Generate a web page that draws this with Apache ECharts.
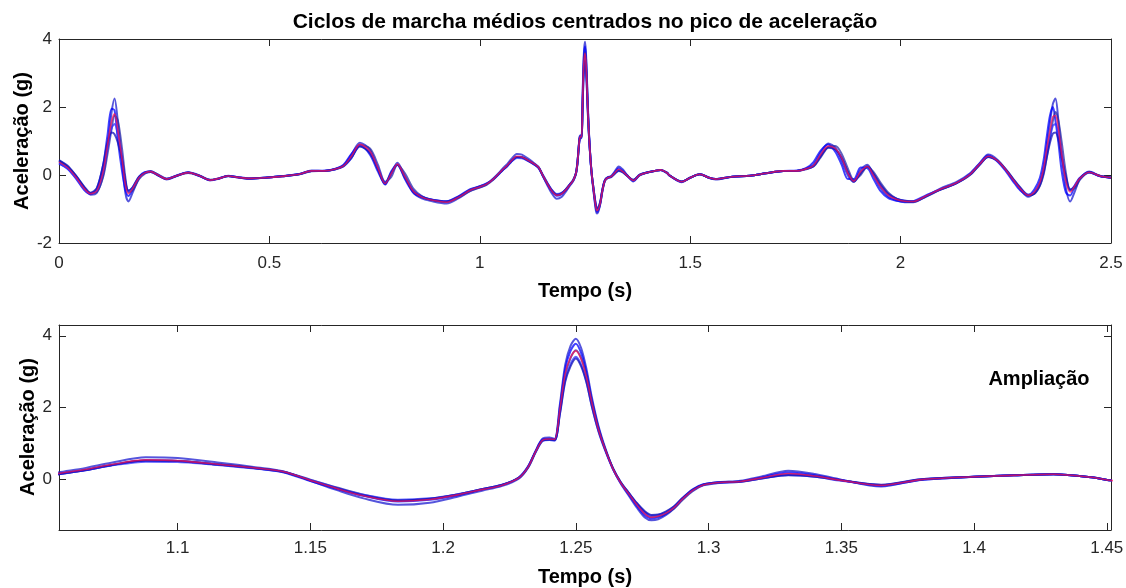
<!DOCTYPE html>
<html>
<head>
<meta charset="utf-8">
<script src="https://cdn.jsdelivr.net/npm/echarts@6/dist/echarts.min.js"></script>
<style>
  html, body { margin: 0; padding: 0; background: #fff; }
  #chart { width: 1126px; height: 588px; }
</style>
</head>
<body>
<div id="chart"></div>
<script>
// Sample instants (s) shared by every averaged gait cycle
const times = [
  0, 0.02, 0.04, 0.06, 0.075, 0.09, 0.105, 0.115, 0.125, 0.132,
  0.14, 0.15, 0.158, 0.165, 0.175, 0.19, 0.205, 0.218, 0.235, 0.256,
  0.28, 0.307, 0.335, 0.359, 0.38, 0.402, 0.425, 0.45, 0.49, 0.53,
  0.57, 0.6, 0.632, 0.655, 0.676, 0.695, 0.715, 0.739, 0.758, 0.775,
  0.79, 0.804, 0.822, 0.842, 0.862, 0.882, 0.921, 0.95, 0.977, 1.0,
  1.016, 1.032, 1.048, 1.055, 1.065, 1.075, 1.088, 1.1, 1.115, 1.13,
  1.14, 1.15, 1.16, 1.17, 1.183, 1.195, 1.205, 1.215, 1.222, 1.2285,
  1.232, 1.235, 1.2375, 1.24, 1.242, 1.244, 1.246, 1.248, 1.25, 1.252,
  1.254, 1.256, 1.2585, 1.261, 1.264, 1.267, 1.27, 1.273, 1.276, 1.2785,
  1.281, 1.284, 1.287, 1.29, 1.294, 1.298, 1.304, 1.312, 1.32, 1.33,
  1.34, 1.35, 1.365, 1.38, 1.4, 1.415, 1.43, 1.445, 1.4515, 1.48,
  1.5, 1.523, 1.545, 1.56, 1.6, 1.642, 1.68, 1.721, 1.753, 1.775,
  1.793, 1.81, 1.828, 1.845, 1.86, 1.875, 1.889, 1.905, 1.921, 1.935,
  1.951, 1.971, 1.991, 2.01, 2.03, 2.06, 2.094, 2.133, 2.165, 2.19,
  2.208, 2.23, 2.252, 2.268, 2.284, 2.303, 2.318, 2.331, 2.34, 2.347,
  2.355, 2.362, 2.368, 2.375, 2.383, 2.393, 2.403, 2.415, 2.426, 2.448,
  2.474, 2.5
];

// Individual averaged cycles (g)
const cycle1 = [
  0.42, 0.25, -0.02, -0.36, -0.58, -0.52, 0.0, 0.8, 1.85, 2.25,
  1.55, 0.35, -0.55, -0.78, -0.52, -0.1, 0.08, 0.12, 0.01, -0.13,
  -0.03, 0.08, -0.02, -0.16, -0.11, -0.02, -0.07, -0.11, -0.08, -0.04,
  0.02, 0.13, 0.12, 0.17, 0.28, 0.6, 0.95, 0.74, 0.18, -0.28,
  0.05, 0.36, -0.04, -0.52, -0.69, -0.76, -0.84, -0.68, -0.47, -0.36,
  -0.28, -0.1, 0.1, 0.2, 0.32, 0.47, 0.62, 0.6, 0.48, 0.34,
  0.23, -0.03, -0.29, -0.52, -0.7, -0.64, -0.48, -0.3, -0.18, 0.03,
  0.34, 0.82, 1.14, 1.17, 1.14, 2.1, 3.2, 3.72, 3.92, 3.66,
  3.08, 2.3, 1.5, 0.9, 0.3, -0.12, -0.45, -0.78, -1.05, -1.13,
  -1.1, -0.98, -0.8, -0.56, -0.3, -0.14, -0.07, -0.03, 0.09, 0.25,
  0.16, 0.0, -0.19, 0.0, 0.08, 0.12, 0.15, 0.06, -0.02, -0.21,
  -0.08, 0.02, -0.09, -0.13, -0.05, -0.02, 0.05, 0.12, 0.12, 0.19,
  0.3, 0.66, 0.93, 0.8, 0.42, -0.02, -0.2, 0.16, 0.3, 0.02,
  -0.36, -0.64, -0.75, -0.8, -0.8, -0.63, -0.4, -0.2, 0.05, 0.38,
  0.6, 0.45, 0.12, -0.16, -0.42, -0.64, -0.52, -0.22, 0.22, 0.85,
  1.55, 2.1, 2.25, 1.6, 0.55, -0.4, -0.78, -0.45, -0.12, 0.1,
  -0.03, -0.07
];
const cycle2 = [
  0.35, 0.18, -0.1, -0.44, -0.56, -0.4, 0.3, 1.15, 1.95, 1.9,
  1.0, 0.1, -0.45, -0.62, -0.42, -0.06, 0.09, 0.1, -0.01, -0.12,
  -0.01, 0.07, -0.04, -0.15, -0.1, -0.03, -0.06, -0.1, -0.08, -0.03,
  0.03, 0.12, 0.13, 0.18, 0.3, 0.62, 0.88, 0.6, 0.1, -0.27,
  0.12, 0.3, -0.12, -0.52, -0.66, -0.72, -0.78, -0.62, -0.42, -0.33,
  -0.25, -0.13, 0.06, 0.15, 0.26, 0.4, 0.53, 0.52, 0.42, 0.31,
  0.2, -0.04, -0.26, -0.45, -0.61, -0.56, -0.44, -0.27, -0.16, 0.06,
  0.37, 0.82, 1.12, 1.14, 1.12, 2.02, 3.08, 3.58, 3.78, 3.52,
  2.98, 2.22, 1.45, 0.86, 0.3, -0.1, -0.42, -0.73, -0.99, -1.08,
  -1.05, -0.95, -0.78, -0.53, -0.27, -0.13, -0.07, -0.05, 0.06, 0.2,
  0.12, -0.01, -0.17, -0.01, 0.08, 0.12, 0.15, 0.06, -0.02, -0.2,
  -0.08, 0.02, -0.08, -0.12, -0.05, -0.02, 0.05, 0.12, 0.13, 0.2,
  0.38, 0.72, 0.9, 0.68, 0.3, -0.12, -0.12, 0.22, 0.2, -0.1,
  -0.45, -0.68, -0.76, -0.79, -0.77, -0.6, -0.43, -0.24, 0.03, 0.37,
  0.57, 0.4, 0.08, -0.2, -0.45, -0.6, -0.42, -0.08, 0.45, 1.1,
  1.75, 2.0, 1.6, 0.95, 0.1, -0.52, -0.6, -0.28, -0.08, 0.09,
  -0.04, -0.08
];
const cycle3 = [
  0.4, 0.24, -0.04, -0.38, -0.54, -0.5, -0.05, 0.6, 1.35, 1.75,
  1.6, 0.75, -0.1, -0.5, -0.45, -0.12, 0.05, 0.1, 0.02, -0.11,
  -0.02, 0.06, -0.03, -0.14, -0.1, -0.04, -0.07, -0.1, -0.08, -0.04,
  0.02, 0.11, 0.12, 0.16, 0.25, 0.5, 0.88, 0.78, 0.3, -0.2,
  -0.05, 0.3, 0.05, -0.4, -0.62, -0.72, -0.79, -0.66, -0.47, -0.37,
  -0.29, -0.14, 0.07, 0.15, 0.26, 0.4, 0.53, 0.52, 0.43, 0.32,
  0.22, 0.0, -0.22, -0.42, -0.58, -0.54, -0.42, -0.26, -0.15, 0.04,
  0.33, 0.78, 1.08, 1.12, 1.1, 1.9, 2.9, 3.38, 3.6, 3.38,
  2.88, 2.18, 1.42, 0.86, 0.32, -0.08, -0.38, -0.68, -0.93, -1.04,
  -1.02, -0.94, -0.8, -0.58, -0.32, -0.16, -0.09, -0.06, 0.03, 0.15,
  0.1, -0.02, -0.15, 0.0, 0.08, 0.12, 0.15, 0.06, -0.02, -0.19,
  -0.08, 0.02, -0.08, -0.12, -0.05, -0.02, 0.05, 0.12, 0.12, 0.17,
  0.25, 0.52, 0.82, 0.85, 0.62, 0.18, -0.15, 0.0, 0.24, 0.1,
  -0.2, -0.52, -0.7, -0.77, -0.79, -0.64, -0.44, -0.24, 0.0, 0.33,
  0.54, 0.43, 0.14, -0.12, -0.36, -0.58, -0.55, -0.32, 0.02, 0.5,
  1.1, 1.6, 1.85, 1.6, 0.95, 0.05, -0.45, -0.38, -0.14, 0.07,
  -0.02, -0.08
];
const cycle4 = [
  0.33, 0.2, -0.08, -0.42, -0.53, -0.44, 0.12, 0.78, 1.38, 1.5,
  1.2, 0.5, -0.25, -0.48, -0.36, -0.07, 0.06, 0.09, 0.0, -0.11,
  -0.02, 0.07, -0.03, -0.15, -0.1, -0.03, -0.07, -0.1, -0.08, -0.04,
  0.02, 0.12, 0.12, 0.16, 0.26, 0.5, 0.85, 0.68, 0.22, -0.22,
  0.04, 0.3, -0.06, -0.46, -0.63, -0.71, -0.77, -0.63, -0.44, -0.34,
  -0.26, -0.12, 0.07, 0.15, 0.26, 0.39, 0.5, 0.49, 0.41, 0.3,
  0.21, -0.01, -0.23, -0.42, -0.56, -0.52, -0.41, -0.26, -0.15, 0.05,
  0.35, 0.79, 1.08, 1.1, 1.08, 1.85, 2.78, 3.22, 3.42, 3.2,
  2.72, 2.05, 1.35, 0.82, 0.29, -0.1, -0.38, -0.66, -0.9, -1.0,
  -0.98, -0.9, -0.75, -0.53, -0.3, -0.15, -0.09, -0.06, 0.03, 0.13,
  0.08, -0.03, -0.15, 0.01, 0.08, 0.12, 0.15, 0.06, -0.02, -0.2,
  -0.08, 0.02, -0.08, -0.12, -0.05, -0.02, 0.05, 0.12, 0.12, 0.18,
  0.27, 0.58, 0.82, 0.76, 0.5, 0.06, -0.18, 0.08, 0.24, 0.0,
  -0.3, -0.58, -0.7, -0.76, -0.77, -0.62, -0.42, -0.23, 0.02, 0.34,
  0.53, 0.41, 0.12, -0.14, -0.38, -0.58, -0.48, -0.22, 0.15, 0.62,
  1.1, 1.45, 1.5, 1.2, 0.6, -0.12, -0.45, -0.3, -0.1, 0.07,
  -0.03, -0.08
];
const cycle5 = [
  0.44, 0.28, -0.01, -0.34, -0.52, -0.38, 0.3, 0.95, 1.25, 1.2,
  0.95, 0.45, -0.2, -0.45, -0.36, -0.05, 0.07, 0.09, -0.01, -0.12,
  -0.02, 0.07, -0.03, -0.15, -0.1, -0.03, -0.07, -0.1, -0.08, -0.04,
  0.02, 0.12, 0.12, 0.17, 0.27, 0.52, 0.84, 0.64, 0.16, -0.24,
  0.08, 0.3, -0.08, -0.48, -0.64, -0.72, -0.78, -0.64, -0.44, -0.34,
  -0.26, -0.12, 0.07, 0.16, 0.27, 0.41, 0.53, 0.52, 0.42, 0.31,
  0.21, -0.02, -0.24, -0.44, -0.58, -0.53, -0.42, -0.26, -0.15, 0.06,
  0.36, 0.8, 1.09, 1.11, 1.1, 1.82, 2.72, 3.15, 3.37, 3.15,
  2.7, 2.05, 1.36, 0.84, 0.31, -0.08, -0.37, -0.65, -0.88, -0.98,
  -0.97, -0.88, -0.74, -0.52, -0.28, -0.14, -0.08, -0.05, 0.04, 0.12,
  0.08, -0.02, -0.14, 0.01, 0.08, 0.12, 0.15, 0.06, -0.02, -0.19,
  -0.08, 0.02, -0.08, -0.12, -0.05, -0.02, 0.05, 0.12, 0.12, 0.18,
  0.26, 0.55, 0.8, 0.75, 0.5, 0.08, -0.2, 0.05, 0.25, 0.05,
  -0.26, -0.56, -0.7, -0.76, -0.78, -0.63, -0.43, -0.24, 0.01, 0.33,
  0.53, 0.42, 0.13, -0.13, -0.38, -0.6, -0.55, -0.3, 0.08, 0.5,
  0.95, 1.22, 1.25, 1.05, 0.5, -0.05, -0.42, -0.32, -0.1, 0.08,
  -0.03, -0.08
];

// Mean cycle (g)
const meanCycle = [
  0.38, 0.22, -0.06, -0.4, -0.55, -0.46, 0.1, 0.85, 1.58, 1.8,
  1.3, 0.45, -0.3, -0.55, -0.4, -0.08, 0.07, 0.1, 0.0, -0.12,
  -0.02, 0.07, -0.03, -0.15, -0.1, -0.03, -0.07, -0.1, -0.08, -0.04,
  0.02, 0.12, 0.12, 0.17, 0.27, 0.55, 0.9, 0.7, 0.2, -0.25,
  0.05, 0.32, -0.05, -0.48, -0.65, -0.73, -0.8, -0.65, -0.45, -0.35,
  -0.27, -0.12, 0.08, 0.17, 0.28, 0.42, 0.55, 0.53, 0.43, 0.32,
  0.22, -0.02, -0.25, -0.45, -0.6, -0.55, -0.43, -0.27, -0.16, 0.05,
  0.35, 0.8, 1.1, 1.13, 1.12, 1.95, 2.95, 3.4, 3.58, 3.35,
  2.85, 2.15, 1.4, 0.85, 0.3, -0.1, -0.4, -0.7, -0.95, -1.05,
  -1.02, -0.93, -0.78, -0.55, -0.3, -0.15, -0.08, -0.05, 0.05, 0.17,
  0.1, -0.02, -0.16, 0.0, 0.08, 0.12, 0.15, 0.06, -0.02, -0.2,
  -0.08, 0.02, -0.08, -0.12, -0.05, -0.02, 0.05, 0.12, 0.12, 0.18,
  0.28, 0.6, 0.85, 0.78, 0.5, 0.05, -0.18, 0.1, 0.25, 0.0,
  -0.32, -0.6, -0.72, -0.77, -0.78, -0.62, -0.42, -0.23, 0.02, 0.35,
  0.55, 0.42, 0.12, -0.15, -0.4, -0.6, -0.5, -0.22, 0.2, 0.75,
  1.3, 1.72, 1.75, 1.35, 0.6, -0.2, -0.5, -0.3, -0.1, 0.08,
  -0.03, -0.08
];

// Tick values
const fullXTicks = [0, 0.5, 1, 1.5, 2, 2.5];
const fullYTicks = [-2, 0, 2, 4];
const zoomXTicks = [1.1, 1.15, 1.2, 1.25, 1.3, 1.35, 1.4, 1.45];
const zoomYTicks = [0, 2, 4];

// Text
const titleText = 'Ciclos de marcha médios centrados no pico de aceleração';
const xName = 'Tempo (s)';
const yName = 'Aceleração (g)';
const zoomNote = 'Ampliação';

const cycles = [cycle1, cycle2, cycle3, cycle4, cycle5];
const cycleColors = ['#1c1cd0', '#0000ff', '#2a2aa8', '#3030ff', '#1010b8'];

const FONT = '"Liberation Sans", Arial, Helvetica, sans-serif';
const INK = '#262626';

function pairs(vals) {
  return times.map((t, i) => [t, vals[i]]);
}

function mainXAxis(gridIndex, min, max, ticks, labelMargin) {
  return {
    type: 'value', gridIndex, min, max, position: 'bottom',
    axisLine: { show: true, onZero: false, lineStyle: { color: INK, width: 1 } },
    axisTick: { show: true, inside: true, length: 7, customValues: ticks, lineStyle: { color: INK } },
    axisLabel: { show: true, customValues: ticks, margin: labelMargin, color: INK,
      fontFamily: FONT, fontSize: 17, formatter: v => String(v) },
    splitLine: { show: false }
  };
}
function mirrorXAxis(gridIndex, min, max, ticks) {
  return {
    type: 'value', gridIndex, min, max, position: 'top',
    axisLine: { show: true, onZero: false, lineStyle: { color: INK, width: 1 } },
    axisTick: { show: true, inside: true, length: 7, customValues: ticks, lineStyle: { color: INK } },
    axisLabel: { show: false },
    splitLine: { show: false }
  };
}
function mainYAxis(gridIndex, min, max, ticks) {
  return {
    type: 'value', gridIndex, min, max, position: 'left',
    axisLine: { show: true, onZero: false, lineStyle: { color: INK, width: 1 } },
    axisTick: { show: true, inside: true, length: 7, customValues: ticks, lineStyle: { color: INK } },
    axisLabel: { show: true, customValues: ticks, margin: 7, color: INK,
      fontFamily: FONT, fontSize: 17, formatter: v => String(v) },
    splitLine: { show: false }
  };
}
function mirrorYAxis(gridIndex, min, max, ticks) {
  return {
    type: 'value', gridIndex, min, max, position: 'right',
    axisLine: { show: true, onZero: false, lineStyle: { color: INK, width: 1 } },
    axisTick: { show: true, inside: true, length: 7, customValues: ticks, lineStyle: { color: INK } },
    axisLabel: { show: false },
    splitLine: { show: false }
  };
}

const series = [];
[[0, 0], [2, 2]].forEach(([xi, yi]) => {
  cycles.forEach((c, k) => {
    series.push({
      type: 'line', xAxisIndex: xi, yAxisIndex: yi, data: pairs(c),
      showSymbol: false, symbol: 'none', smooth: 0.3,
      lineStyle: { color: cycleColors[k], width: 2, opacity: 0.75 },
      silent: true, clip: true, z: 2
    });
  });
  series.push({
    type: 'line', xAxisIndex: xi, yAxisIndex: yi, data: pairs(meanCycle),
    showSymbol: false, symbol: 'none', smooth: 0.3,
    lineStyle: { color: '#ff1050', width: 1.6, opacity: 0.7 },
    silent: true, clip: true, z: 3
  });
});

const boldText = (x, y, text, size, rotation) => ({
  type: 'text', x, y, rotation: rotation || 0,
  style: { text, fontFamily: FONT, fontWeight: 'bold', fontSize: size,
    fill: '#000', align: 'center', verticalAlign: 'middle' }
});

const chart = echarts.init(document.getElementById('chart'), null, { renderer: 'canvas' });
chart.setOption({
  animation: false,
  backgroundColor: '#ffffff',
  grid: [
    { left: 59, top: 39, width: 1052, height: 204, containLabel: false, outerBoundsMode: 'none' },
    { left: 59, top: 325, width: 1052, height: 205, containLabel: false, outerBoundsMode: 'none' }
  ],
  xAxis: [
    mainXAxis(0, 0, 2.5, fullXTicks, 12),
    mirrorXAxis(0, 0, 2.5, fullXTicks),
    mainXAxis(1, 1.0553, 1.4516, zoomXTicks, 10),
    mirrorXAxis(1, 1.0553, 1.4516, zoomXTicks)
  ],
  yAxis: [
    mainYAxis(0, -2, 4, fullYTicks),
    mirrorYAxis(0, -2, 4, fullYTicks),
    mainYAxis(1, -1.4, 4.3, zoomYTicks),
    mirrorYAxis(1, -1.4, 4.3, zoomYTicks)
  ],
  series,
  graphic: [
    boldText(585, 22, titleText, 21),
    boldText(585, 291, xName, 20),
    boldText(585, 577, xName, 20),
    boldText(22, 141, yName, 20, Math.PI / 2),
    boldText(28, 427, yName, 20, Math.PI / 2),
    boldText(1039, 379, zoomNote, 20)
  ]
});
</script>
</body>
</html>
